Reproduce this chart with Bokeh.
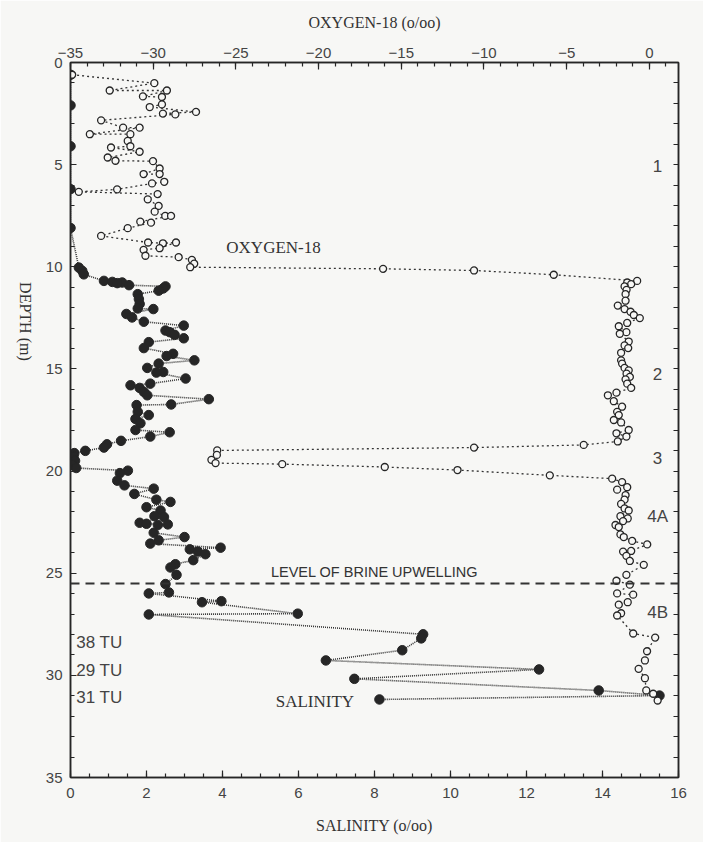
import math
from bokeh.plotting import figure
from bokeh.models import Range1d, LinearAxis, SingleIntervalTicker, FixedTicker, Label, Span
from bokeh.embed import file_html
from bokeh.resources import INLINE

# ---- Salinity profile (o/oo) vs depth (m) ----
salinity_depth = [0.6, 2.1, 4.1, 6.2, 8.1, 10.04, 10.20, 10.37, 10.69, 10.74, 10.77, 10.80, 10.90,
                  10.96, 11.06, 11.17, 11.34, 11.58, 11.82, 12.04, 12.07, 12.31, 12.48, 12.69, 12.88,
                  13.12, 13.20, 13.33, 13.50, 13.69, 13.98, 14.26, 14.37, 14.58, 14.74, 14.95, 15.15,
                  15.18, 15.47, 15.72, 15.80, 15.93, 16.12, 16.29, 16.48, 16.74, 16.77, 17.10, 17.26,
                  17.45, 17.66, 17.99, 18.10, 18.31, 18.52, 18.69, 18.85, 19.01, 19.12, 19.30, 19.50,
                  19.70, 19.85, 19.98, 20.10, 20.47, 20.70, 20.86, 21.12, 21.40, 21.51, 21.77, 21.93,
                  22.21, 22.25, 22.53, 22.58, 22.61, 22.64, 23.02, 23.23, 23.39, 23.55, 23.75, 23.83,
                  23.94, 24.07, 24.36, 24.56, 24.72, 25.08, 25.53, 25.94, 25.99, 26.37, 26.42, 26.98,
                  27.02, 27.99, 28.19, 28.77, 29.27, 29.71, 30.17, 30.74, 30.99, 31.18]
salinity_value = [0.0, 0.0, 0.0, 0.0, 0.0, 0.22, 0.31, 0.35, 0.88, 1.10, 1.36, 1.23, 1.54,
                  2.50, 2.44, 2.32, 1.77, 1.80, 1.82, 1.77, 2.18, 1.47, 1.62, 1.93, 2.98,
                  2.50, 2.61, 2.74, 2.98, 2.06, 1.93, 2.70, 2.53, 3.26, 2.32, 2.02, 2.44,
                  2.26, 3.03, 2.10, 1.58, 1.82, 1.93, 2.02, 3.64, 2.65, 1.74, 1.77, 2.06,
                  1.71, 1.84, 1.71, 2.61, 2.10, 1.33, 0.96, 0.88, 0.39, 0.10, 0.08, 0.12,
                  0.05, 0.15, 1.51, 1.30, 1.23, 1.42, 2.19, 1.68, 2.26, 2.63, 2.00, 2.37,
                  2.21, 2.46, 1.82, 2.00, 2.56, 2.30, 2.19, 3.00, 2.32, 2.10, 3.95, 3.14,
                  3.35, 3.55, 3.23, 2.76, 2.63, 2.79, 2.50, 2.59, 2.06, 3.97, 3.46, 5.98,
                  2.06, 9.28, 9.23, 8.73, 6.72, 12.33, 7.47, 13.90, 15.50, 8.13]

# ---- Oxygen-18 profile (o/oo) vs depth (m) ----
o18_depth = [0.6, 1.01, 1.37, 1.37, 1.66, 1.69, 2.05, 2.18, 2.42, 2.50, 2.54, 2.83, 3.19, 3.19,
             3.51, 3.51, 3.84, 4.10, 4.16, 4.37, 4.65, 4.81, 4.83, 5.19, 5.46, 5.46, 5.84, 5.92,
             6.21, 6.33, 6.44, 6.70, 7.02, 7.30, 7.51, 7.51, 7.79, 7.84, 8.11, 8.49, 8.81, 8.85,
             8.81, 9.09, 9.17, 9.46, 9.53, 9.66, 9.85, 10.02, 10.10, 10.18, 10.39,
             10.69, 10.77, 10.85, 10.96, 11.13, 11.34, 11.66, 11.90, 12.07, 12.20, 12.36, 12.51,
             12.75, 12.91, 13.20, 13.28, 13.66, 13.85, 13.98, 14.21, 14.58, 14.74, 14.95, 15.07,
             15.23, 15.39, 15.51, 15.72, 15.93, 16.16, 16.29, 16.58, 16.85, 17.10, 17.26, 17.50,
             17.62, 17.99, 18.15, 18.31, 18.55, 18.72, 18.85, 18.99, 19.21, 19.45, 19.61, 19.66,
             19.80, 19.95, 20.21, 20.37, 20.54, 20.79, 20.91, 21.18, 21.40, 21.61, 21.83, 21.93,
             22.21, 22.32, 22.45, 22.64, 22.74, 23.10, 23.23, 23.42, 23.59, 23.91, 23.94, 24.15,
             24.40, 24.59, 25.08, 25.37, 25.56, 25.99, 26.05, 26.42, 26.54, 26.96, 27.07, 27.95,
             28.15, 28.82, 29.27, 29.68, 30.14, 30.74, 30.90, 31.23]
o18_value = [-34.9, -29.93, -32.63, -29.17, -30.62, -29.47, -29.47, -30.21, -27.41, -29.41, -28.66,
             -33.15, -31.82, -30.82, -33.83, -31.38, -31.54, -31.38, -32.55, -30.82, -32.75, -32.28,
             -30.01, -29.61, -30.58, -29.61, -29.33, -30.07, -32.18, -34.50, -29.73, -30.33, -29.67,
             -29.91, -29.27, -28.92, -30.78, -30.13, -31.54, -33.15, -30.31, -29.41, -28.62, -29.61,
             -30.58, -30.47, -28.46, -27.66, -27.52, -27.76, -16.1, -10.6, -5.78,
             -0.74, -1.34, -1.10, -1.50, -1.38, -1.44, -1.44, -1.91, -1.50, -1.14, -0.94, -0.58,
             -1.34, -1.85, -1.39, -1.79, -1.25, -1.50, -1.28, -1.71, -1.71, -1.65, -1.50, -1.25,
             -1.38, -1.18, -1.44, -1.34, -1.10, -1.99, -2.51, -2.15, -1.65, -1.95, -1.85, -2.15,
             -1.71, -1.25, -1.99, -1.39, -1.91, -3.97, -10.6, -26.13, -26.15, -26.48, -26.23, -22.2,
             -16.0, -11.6, -6.02, -2.25, -1.65, -1.34, -1.95, -1.44, -1.50, -1.71, -1.50, -1.25,
             -1.75, -1.31, -1.59, -2.05, -1.85, -1.75, -1.55, -1.04, -0.13, -1.10, -1.59, -1.39,
             -1.18, -0.34, -1.39, -1.99, -1.18, -1.95, -0.98, -1.31, -1.85, -1.71, -1.95, -0.98,
             0.35, -0.14, -0.27, -0.65, -0.27, -0.19, 0.23, 0.50]

salinity_range = (0, 16)
o18_range = (-35, 1.76)
depth_range = (35, 0)
brine_level = 25.5
depth_title_at = 14.6

BG = "#f7f7f5"
INK = "#262626"
SANS = "Liberation Sans"
SERIF = "Liberation Serif"

p = figure(width=703, height=842, output_backend="svg", toolbar_location=None,
           x_range=Range1d(*salinity_range), y_range=Range1d(*depth_range),
           min_border_left=70, min_border_right=25, min_border_top=62, min_border_bottom=65,
           background_fill_color=BG, border_fill_color=BG, title=None)
p.grid.visible = False
p.outline_line_color = INK
p.outline_line_width = 1.5
p.extra_x_ranges = {"o18": Range1d(*o18_range)}


def style_axis(ax, major_in, minor_in):
    ax.axis_line_color = INK
    ax.axis_line_width = 1.5
    ax.major_tick_in = major_in
    ax.major_tick_out = 0
    ax.minor_tick_in = minor_in
    ax.minor_tick_out = 0
    ax.major_tick_line_color = INK
    ax.minor_tick_line_color = INK
    ax.major_tick_line_width = 1.2
    ax.minor_tick_line_width = 1.2
    ax.major_label_text_font = SANS
    ax.major_label_text_font_size = "15px"
    ax.major_label_text_color = "#444444"
    ax.axis_label_text_font = SERIF
    ax.axis_label_text_font_style = "normal"
    ax.axis_label_text_font_size = "16px"
    ax.axis_label_text_color = "#333333"


bottom = p.below[0]
bottom.ticker = SingleIntervalTicker(interval=2, num_minor_ticks=4)
bottom.axis_label = "SALINITY (o/oo)"
style_axis(bottom, 7, 4)
bottom.major_label_standoff = 10
bottom.axis_label_standoff = 16

left = p.left[0]
left.ticker = SingleIntervalTicker(interval=5, num_minor_ticks=5)
style_axis(left, 6, 4)
left.major_label_standoff = 8

# second left axis with a single (invisible) tick whose label is the depth title
depth_title = LinearAxis(ticker=FixedTicker(ticks=[depth_title_at]),
                         major_label_overrides={depth_title_at: "DEPTH (m)"},
                         major_label_orientation=-math.pi / 2)
style_axis(depth_title, 0, 0)
depth_title.axis_line_color = None
depth_title.major_tick_line_color = None
depth_title.major_label_text_font = SERIF
depth_title.major_label_text_font_size = "16px"
depth_title.major_label_text_color = "#333333"
depth_title.major_label_standoff = 17
p.add_layout(depth_title, "left")

top = LinearAxis(x_range_name="o18", ticker=SingleIntervalTicker(interval=5, num_minor_ticks=5),
                 axis_label="OXYGEN-18 (o/oo)")
style_axis(top, 7, 4)
top.major_label_standoff = 5
top.axis_label_standoff = 14
p.add_layout(top, "above")

right = LinearAxis(ticker=FixedTicker(ticks=[], minor_ticks=list(range(0, 36))))
style_axis(right, 5, 5)
right.major_label_standoff = 0
p.add_layout(right, "right")

# brine upwelling level
p.add_layout(Span(location=brine_level, dimension="width", line_color="#333333",
                  line_width=2, line_dash="9 6"))

# salinity
p.line(salinity_value, salinity_depth, line_color="#333333", line_width=1.6, line_dash="1 1")
p.scatter(salinity_value, salinity_depth, size=9.5, fill_color=INK, line_color=INK)

# oxygen-18
p.line(o18_value, o18_depth, x_range_name="o18", line_color="#333333", line_width=1.3,
       line_dash="2 3")
p.scatter(o18_value, o18_depth, x_range_name="o18", size=7, fill_color=BG,
          line_color=INK, line_width=1.3)


def add_label(text, x, y, font, size, align="left", color="#333333"):
    p.add_layout(Label(x=x, y=y, text=text, text_font=font, text_font_size=size,
                       text_align=align, text_baseline="middle", text_color=color))


add_label("OXYGEN-18", 4.1, 9.05, SERIF, "17px")
add_label("SALINITY", 5.4, 31.3, SERIF, "17px")
add_label("LEVEL OF BRINE UPWELLING", 8.0, 24.95, SANS, "14.5px", align="center")
add_label("38 TU", 0.15, 28.4, SANS, "17px", color="#444444")
add_label("29 TU", 0.15, 29.75, SANS, "17px", color="#444444")
add_label("31 TU", 0.15, 31.1, SANS, "17px", color="#444444")
add_label("1", 15.45, 5.06, SANS, "17px", align="center", color="#444444")
add_label("2", 15.45, 15.23, SANS, "17px", align="center", color="#444444")
add_label("3", 15.45, 19.37, SANS, "17px", align="center", color="#444444")
add_label("4A", 15.45, 22.2, SANS, "17px", align="center", color="#444444")
add_label("4B", 15.45, 26.9, SANS, "17px", align="center", color="#444444")

open("out.html", "w").write(file_html(p, INLINE))
